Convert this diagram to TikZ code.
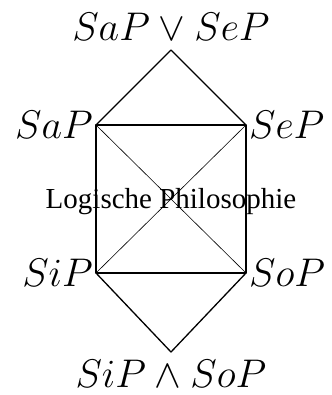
\RequirePackage{fix-cm}
\documentclass[tikz,border=0pt]{standalone}
\usepackage{fontspec}
\newfontfamily\timesfont{Liberation Serif}
\tikzset{
  edge/.style={line width=1.3pt, line join=round},
  diag/.style={line width=0.6pt},
  mlabel/.style={font=\fontsize{40}{48}\selectfont, inner sep=3pt},
  tlabel/.style={font=\timesfont\fontsize{29}{34}\selectfont, inner sep=0pt}
}
\begin{document}
\begin{tikzpicture}[x=1pt,y=-1pt]
\useasboundingbox (0,0) rectangle (331,395);
\coordinate (top) at (171,50);
\coordinate (a) at (96,125);
\coordinate (e) at (246,125);
\coordinate (i) at (96,273);
\coordinate (o) at (246,273);
\coordinate (bot) at (171,352);
% edges
\draw[edge] (a) -- (top) -- (e);
\draw[edge] (a) -- (e) -- (o) -- (i) -- cycle;
\draw[edge] (i) -- (bot) -- (o);
\draw[diag] (a) -- (o);
\draw[diag] (e) -- (i);
% labels
\node[mlabel, anchor=base] (ltop) at (171,41) {$SaP \vee SeP$};
\node[mlabel, anchor=east] (la) at (a) {$SaP$};
\node[mlabel, anchor=west] (le) at (e) {$SeP$};
\node[mlabel, anchor=east] (li) at (i) {$SiP$};
\node[mlabel, anchor=west] (lo) at (o) {$SoP$};
\node[mlabel, anchor=base] (lbot) at (171,387) {$SiP \wedge SoP$};
\node[tlabel, anchor=base] (title) at (171,208) {Logische Philosophie};
\end{tikzpicture}
\end{document}
